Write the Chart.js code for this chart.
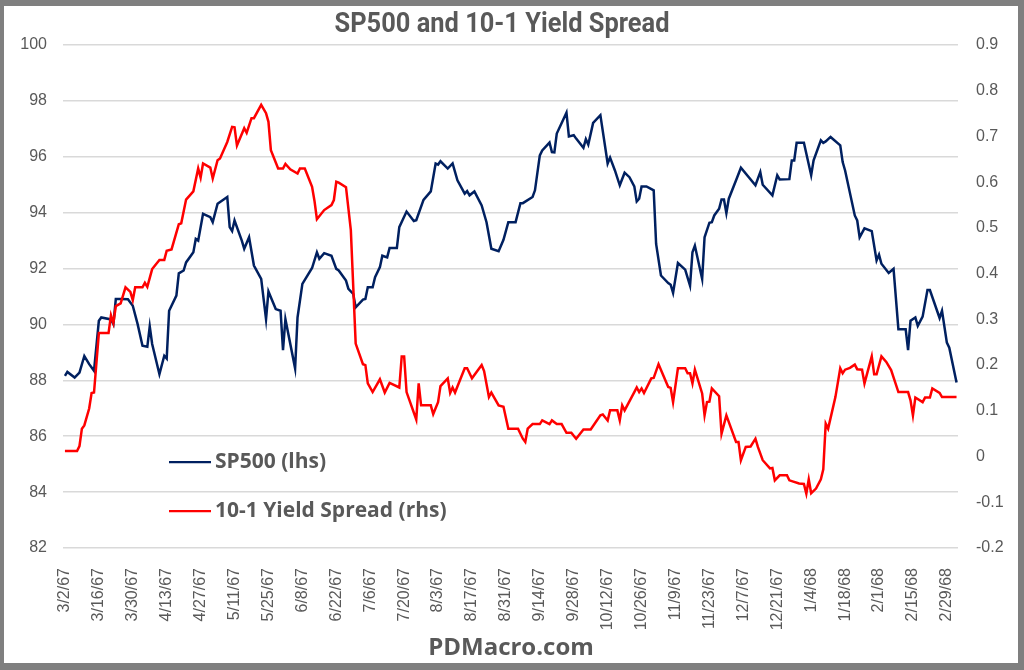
<!DOCTYPE html>
<html>
<head>
<meta charset="utf-8">
<script src="https://cdn.jsdelivr.net/npm/chart.js@4.4.1/dist/chart.umd.min.js"></script>
<style>
  html, body { margin: 0; padding: 0; background: #7f7f7f; }
  #frame { position: absolute; left: 4px; top: 6px; width: 1014px; height: 657px; background: #ffffff; }
  #wrap { position: absolute; left: 0; top: 0; width: 1024px; height: 670px; }
</style>
</head>
<body>
<div id="frame"></div>
<div id="wrap"><canvas id="chart" width="1024" height="670"></canvas></div>
<script>
// days counted from 3/2/67
var startDate = new Date(1967, 2, 2);

var spDays = [0, 1, 4, 6, 8, 10, 12, 14, 15, 19, 20, 21, 23, 26, 28, 30, 32, 34, 35, 36,
  39, 41, 42, 43, 46, 47, 49, 50, 53, 54, 55, 57, 60, 61, 63, 67, 68, 69, 70, 73,
  74, 76, 78, 81, 83, 84, 87, 89, 90, 91, 95, 96, 98, 102, 104, 105, 107, 110, 112, 113,
  116, 117, 119, 120, 123, 124, 125, 127, 128, 130, 131, 133, 134, 137, 138, 141, 144, 145, 148, 151,
  153, 154, 155, 158, 160, 162, 165, 166, 167, 169, 172, 174, 176, 179, 181, 183, 186, 188, 189, 193,
  194, 196, 197, 200, 201, 202, 203, 207, 208, 210, 211, 214, 215, 216, 218, 221, 224, 225, 227, 229,
  231, 233, 235, 236, 237, 238, 240, 243, 244, 246, 249, 250, 251, 253, 256, 258, 259, 260, 263, 264,
  266, 267, 268, 270, 271, 272, 273, 274, 277, 279, 285, 287, 288, 292, 294, 295, 299, 300, 301, 302,
  305, 308, 309, 312, 313, 314, 316, 320, 321, 322, 326, 327, 328, 330, 333, 335, 336, 337, 340, 342,
  344, 347, 348, 349, 351, 352, 354, 356, 357, 361, 362, 364, 365, 368];
var sp500 = [88.16, 88.3, 88.1, 88.28, 88.87, 88.58, 88.34, 90.13, 90.25, 90.18, 90.01, 90.91, 90.91, 90.9, 90.67, 90.01, 89.24, 89.2, 89.93, 89.3,
  88.22, 88.88, 88.78, 90.49, 91.03, 91.83, 91.93, 92.22, 92.58, 93.06, 93.0, 93.96, 93.84, 93.66, 94.32, 94.56, 93.48, 93.34, 93.72, 93.0,
  92.71, 93.12, 92.11, 91.63, 90.19, 91.18, 90.55, 90.49, 89.08, 90.19, 88.43, 90.25, 91.45, 92.02, 92.58, 92.35, 92.55, 92.46, 91.99, 91.93,
  91.57, 91.27, 91.09, 90.61, 90.89, 90.91, 91.33, 91.33, 91.69, 92.05, 92.46, 92.4, 92.74, 92.74, 93.48, 94.04, 93.7, 93.73, 94.46, 94.76,
  95.76, 95.72, 95.84, 95.58, 95.76, 95.16, 94.68, 94.77, 94.62, 94.76, 94.26, 93.66, 92.71, 92.62, 93.03, 93.66, 93.66, 94.34, 94.34, 94.56,
  94.8, 96.05, 96.23, 96.51, 96.17, 96.16, 96.83, 97.58, 96.73, 96.77, 96.65, 96.32, 96.63, 96.44, 97.21, 97.49, 95.76, 95.97, 95.51, 94.98,
  95.43, 95.27, 94.94, 94.4, 94.5, 94.94, 94.94, 94.8, 92.88, 91.75, 91.48, 91.42, 91.13, 92.2, 91.96, 91.39, 92.58, 92.82, 91.63, 93.12,
  93.64, 93.66, 93.9, 94.14, 94.47, 94.47, 93.98, 94.5, 95.16, 95.61, 94.98, 95.45, 95.0, 94.62, 95.34, 95.19, 95.2, 95.87, 95.87, 96.5,
  96.5, 95.34, 95.87, 96.59, 96.5, 96.55, 96.71, 96.41, 95.81, 95.51, 93.9, 93.72, 93.12, 93.44, 93.34, 92.29, 92.5, 92.17, 91.84, 91.99,
  89.83, 89.83, 89.08, 90.13, 90.25, 89.95, 90.28, 91.23, 91.23, 90.23, 90.49, 89.35, 89.17, 87.92];

var spreadDays = [0, 5, 6, 7, 8, 10, 11, 12, 14, 18, 19, 20, 21, 23, 25, 27, 28, 29, 32, 33,
  34, 36, 39, 41, 42, 44, 47, 48, 50, 53, 55, 56, 57, 60, 61, 63, 64, 67, 69, 70,
  71, 74, 75, 77, 78, 81, 83, 84, 85, 88, 90, 91, 93, 96, 97, 99, 102, 103, 104, 107,
  110, 111, 112, 113, 116, 118, 119, 120, 123, 124, 125, 127, 130, 132, 134, 138, 139, 140, 141, 145,
  146, 147, 151, 152, 154, 155, 158, 159, 160, 161, 165, 166, 168, 172, 173, 175, 176, 179, 181, 183,
  187, 189, 190, 191, 193, 196, 197, 200, 201, 203, 205, 207, 209, 211, 214, 217, 221, 222, 224, 225,
  228, 229, 230, 231, 235, 236, 237, 238, 239, 242, 243, 245, 249, 250, 251, 253, 256, 257, 258, 259,
  260, 263, 264, 265, 266, 267, 270, 271, 273, 277, 278, 279, 281, 283, 285, 286, 288, 291, 292, 293,
  295, 298, 299, 303, 305, 306, 307, 308, 310, 312, 313, 314, 315, 318, 320, 321, 322, 324, 326, 327,
  329, 330, 333, 334, 335, 337, 339, 341, 344, 348, 349, 350, 351, 354, 355, 357, 358, 361, 362, 368];
var spread = [0.012, 0.012, 0.023, 0.061, 0.068, 0.105, 0.139, 0.14, 0.27, 0.27, 0.309, 0.292, 0.329, 0.335, 0.37, 0.36, 0.342, 0.37, 0.37, 0.38,
  0.371, 0.41, 0.43, 0.43, 0.45, 0.453, 0.508, 0.51, 0.562, 0.58, 0.63, 0.61, 0.641, 0.632, 0.608, 0.648, 0.652, 0.688, 0.721, 0.72,
  0.68, 0.718, 0.708, 0.74, 0.74, 0.769, 0.751, 0.732, 0.67, 0.63, 0.63, 0.64, 0.628, 0.619, 0.63, 0.63, 0.59, 0.559, 0.519, 0.539,
  0.55, 0.561, 0.601, 0.599, 0.589, 0.495, 0.371, 0.247, 0.202, 0.2, 0.16, 0.141, 0.169, 0.14, 0.161, 0.151, 0.219, 0.219, 0.141, 0.081,
  0.16, 0.112, 0.112, 0.093, 0.119, 0.154, 0.171, 0.139, 0.151, 0.14, 0.193, 0.193, 0.171, 0.2, 0.187, 0.13, 0.14, 0.112, 0.109, 0.061,
  0.061, 0.039, 0.032, 0.061, 0.071, 0.071, 0.079, 0.071, 0.079, 0.071, 0.071, 0.052, 0.052, 0.039, 0.059, 0.059, 0.09, 0.092, 0.079, 0.101,
  0.101, 0.079, 0.112, 0.101, 0.141, 0.151, 0.141, 0.149, 0.139, 0.171, 0.172, 0.202, 0.152, 0.15, 0.119, 0.193, 0.193, 0.182, 0.182, 0.16,
  0.19, 0.138, 0.09, 0.119, 0.12, 0.149, 0.132, 0.05, 0.09, 0.032, 0.032, -0.008, 0.021, 0.022, 0.039, 0.021, -0.008, -0.026, -0.025, -0.052,
  -0.041, -0.041, -0.052, -0.059, -0.06, -0.081, -0.05, -0.08, -0.07, -0.05, -0.028, 0.072, 0.061, 0.13, 0.193, 0.182, 0.19, 0.194, 0.201, 0.191,
  0.19, 0.16, 0.219, 0.18, 0.18, 0.219, 0.207, 0.189, 0.141, 0.141, 0.123, 0.09, 0.129, 0.119, 0.129, 0.129, 0.149, 0.139, 0.13, 0.13];

// x tick labels every two weeks
var tickDays = [0, 14, 28, 42, 56, 70, 84, 98, 112, 126, 140, 154, 168, 182, 196, 210, 224, 238, 252, 266, 280, 294, 308, 322, 336, 350, 364];

var titleText = 'SP500 and 10-1 Yield Spread';
var footerText = 'PDMacro.com';
var seriesNames = ['SP500 (lhs)', '10-1 Yield Spread (rhs)'];
var navy = '#002060';
var red = '#ff0000';
var grey = '#595959';

function dayLabel(d) {
  var dt = new Date(startDate.getTime());
  dt.setDate(dt.getDate() + d);
  return (dt.getMonth() + 1) + '/' + dt.getDate() + '/' + String(dt.getFullYear()).slice(2);
}

// title, footer and the in-plot legend
var decorPlugin = {
  id: 'decor',
  afterDraw: function(chart) {
    var ctx = chart.ctx;
    var area = chart.chartArea;
    ctx.save();
    ctx.fillStyle = grey;
    ctx.textAlign = 'center';
    ctx.textBaseline = 'alphabetic';

    // title is a narrow bold face in the original, so squeeze it a bit
    ctx.font = 'bold 27px Roboto, "Liberation Sans", sans-serif';
    var w = ctx.measureText(titleText).width;
    var squeeze = Math.min(1, 335 / w);
    ctx.save();
    ctx.translate(502, 32);
    ctx.scale(squeeze, 1);
    ctx.fillText(titleText, 0, 0);
    ctx.restore();

    ctx.font = 'bold 24px "Open Sans", sans-serif';
    ctx.fillText(footerText, 511, 655);

    var colors = [navy, red];
    var ys = [area.top + 417, area.top + 466];
    ctx.textAlign = 'left';
    ctx.textBaseline = 'middle';
    ctx.font = 'bold 21px "Open Sans", sans-serif';
    for (var i = 0; i < seriesNames.length; i++) {
      ctx.strokeStyle = colors[i];
      ctx.lineWidth = 2.25;
      ctx.beginPath();
      ctx.moveTo(area.left + 106, ys[i]);
      ctx.lineTo(area.left + 148, ys[i]);
      ctx.stroke();
      ctx.fillText(seriesNames[i], area.left + 152, ys[i]);
    }
    ctx.restore();
  }
};

var ctx = document.getElementById('chart').getContext('2d');
var myChart = new Chart(ctx, {
  type: 'line',
  data: {
    datasets: [
      {
        label: seriesNames[0],
        data: spDays.map(function(d, i) { return { x: d, y: sp500[i] }; }),
        yAxisID: 'y',
        borderColor: navy,
        borderWidth: 2.5,
        pointRadius: 0,
        tension: 0,
        order: 2
      },
      {
        label: seriesNames[1],
        data: spreadDays.map(function(d, i) { return { x: d, y: spread[i] }; }),
        yAxisID: 'y1',
        borderColor: red,
        borderWidth: 2.5,
        pointRadius: 0,
        tension: 0,
        order: 1
      }
    ]
  },
  options: {
    responsive: false,
    animation: false,
    layout: { padding: { top: 45, left: 0, right: 0, bottom: 0 } },
    scales: {
      x: {
        type: 'linear',
        min: -0.8,
        max: 368.6,
        afterBuildTicks: function(scale) {
          scale.ticks = tickDays.map(function(v) { return { value: v }; });
        },
        afterFit: function(scale) { scale.height = 122; },
        grid: { display: false },
        border: { display: false },
        ticks: {
          autoSkip: false,
          maxRotation: 90,
          minRotation: 90,
          padding: 12,
          color: grey,
          font: { family: '"Liberation Sans", Arial, sans-serif', size: 16 },
          callback: function(v) { return dayLabel(v); }
        }
      },
      y: {
        position: 'left',
        min: 82,
        max: 100,
        afterFit: function(scale) { scale.width = 63; },
        grid: { color: '#d9d9d9', lineWidth: 1.5, drawTicks: false },
        border: { display: false },
        ticks: {
          stepSize: 2,
          padding: 16,
          color: grey,
          font: { family: '"Liberation Sans", Arial, sans-serif', size: 16 }
        }
      },
      y1: {
        position: 'right',
        min: -0.2,
        max: 0.9,
        afterFit: function(scale) { scale.width = 66; },
        grid: { display: false, drawTicks: false },
        border: { display: false },
        ticks: {
          stepSize: 0.1,
          padding: 18,
          color: grey,
          font: { family: '"Liberation Sans", Arial, sans-serif', size: 16 },
          callback: function(v) { return String(Math.round(v * 10) / 10); }
        }
      }
    },
    plugins: {
      legend: { display: false },
      title: { display: false },
      tooltip: { enabled: false }
    }
  },
  plugins: [decorPlugin]
});
</script>
</body>
</html>
